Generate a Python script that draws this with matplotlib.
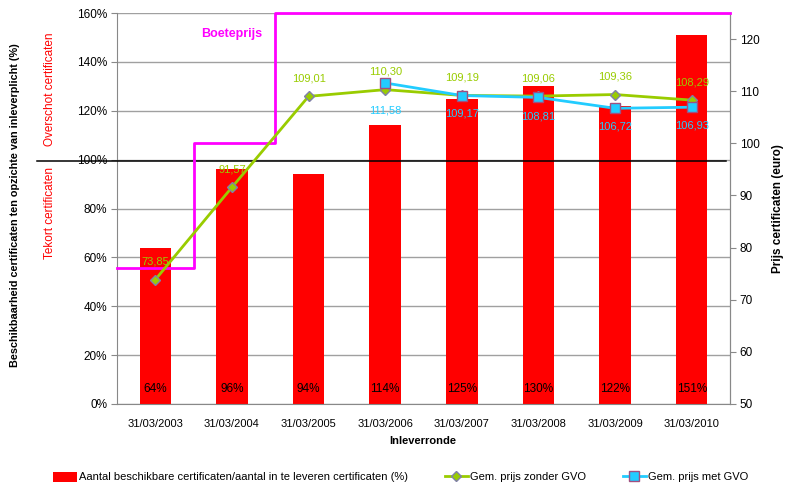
import matplotlib
matplotlib.use("Agg")
import matplotlib.pyplot as plt
from matplotlib.patches import Patch
from matplotlib.lines import Line2D
import matplotlib.transforms as mtransforms

plt.rcParams['font.family'] = ['Liberation Sans Narrow', 'Liberation Sans', 'DejaVu Sans']

categories = ['31/03/2003', '31/03/2004', '31/03/2005', '31/03/2006',
              '31/03/2007', '31/03/2008', '31/03/2009', '31/03/2010']
availability_pct = [64, 96, 94, 114, 125, 130, 122, 151]
price_zonder_gvo = [73.85, 91.57, 109.01, 110.30, 109.19, 109.06, 109.36, 108.29]
price_met_gvo = [None, None, None, 111.58, 109.17, 108.81, 106.72, 106.93]
boete_change_x = [-0.5, 0.5, 1.56]
boete_values = [76, 100, 125]
left_ticks = [0, 20, 40, 60, 80, 100, 120, 140, 160]
right_ticks = [50, 60, 70, 80, 90, 100, 110, 120]

def fmt(v):
    return f"{v:.2f}".replace('.', ',')

W, H = 786, 488
fig = plt.figure(figsize=(W / 100, H / 100), dpi=100)
ax = fig.add_axes([117 / W, 1 - 404 / H, (730 - 117) / W, (404 - 13) / H])
ax2 = ax.twinx()

x = list(range(len(categories)))
GRAY = '#888888'
GREEN = '#99CC00'
BLUE = '#22CCFF'

# bars
ax.bar(x, availability_pct, width=0.41, color='#FF0000', zorder=2)
for xi, v in zip(x, availability_pct):
    ax.text(xi, 6, f"{v}%", ha='center', va='center', fontsize=8.5, color='black', zorder=5)

ax.set_xlim(-0.5, 7.5)
ax.set_ylim(0, 160)
ax.set_yticks(left_ticks)
ax.set_yticklabels([f"{t}%" for t in left_ticks], fontsize=8.5)
ax.set_xticks(x)
ax.set_xticklabels(categories, fontsize=8)
ax.yaxis.grid(True, color='#A0A0A0', linewidth=1.0, zorder=0)
ax.set_axisbelow(True)
for s in ['left', 'right', 'bottom']:
    ax.spines[s].set_color(GRAY)
ax.spines['top'].set_visible(False)
ax2.spines['top'].set_visible(False)
ax2.spines['right'].set_color(GRAY)
ax2.spines['left'].set_visible(False)
ax2.spines['bottom'].set_visible(False)
ax.tick_params(axis='y', length=4, color=GRAY, pad=3)
ax.tick_params(axis='x', length=0, pad=11)

# black 100% line extending left
trans = mtransforms.blended_transform_factory(ax.transAxes, ax.transData)
ax.plot([-0.1305, 0.9935], [99.4, 99.4], color='black', linewidth=1.1,
        transform=trans, clip_on=False, zorder=3)

# right axis
ax2.set_ylim(50, 125)
ax2.set_yticks(right_ticks)
ax2.set_yticklabels([str(t) for t in right_ticks], fontsize=8.5)
ax2.tick_params(axis='y', length=4, color=GRAY, pad=3)

# boeteprijs step line
bx = boete_change_x + [7.5]
by = boete_values + [boete_values[-1]]
ax2.step(bx, by, where='post', color='#FF00FF', linewidth=2.0, clip_on=False, zorder=3)
ax2.text(1.0, 121, 'Boeteprijs', color='#FF00FF', fontsize=9, fontweight='bold',
         ha='center', va='center')

# price lines
ax2.plot(x, price_zonder_gvo, color=GREEN, linewidth=2.0, marker='D', markersize=5.5,
         markerfacecolor=GREEN, markeredgecolor='#8080A8', markeredgewidth=1.0, zorder=4)
for xi, v in zip(x, price_zonder_gvo):
    ax2.annotate(fmt(v), (xi, v), xytext=(0, 13), textcoords='offset points',
                 ha='center', va='center', fontsize=8, color=GREEN, zorder=6)

mx = [xi for xi, v in zip(x, price_met_gvo) if v is not None]
mv = [v for v in price_met_gvo if v is not None]
met_label_offsets = [-20, -13, -14, -13, -13]
ax2.plot(mx, mv, color=BLUE, linewidth=2.0, marker='s', markersize=7,
         markerfacecolor=BLUE, markeredgecolor='#A05080', markeredgewidth=1.0, zorder=5)
for xi, v, off in zip(mx, mv, met_label_offsets):
    ax2.annotate(fmt(v), (xi, v), xytext=(0, off), textcoords='offset points',
                 ha='center', va='center', fontsize=8, color=BLUE, zorder=6)

# axis titles
fig.text(15 / W, 1 - 205 / H, 'Beschikbaarheid certificaten ten opzichte van inleverplicht (%)',
         rotation=90, ha='center', va='center', fontsize=7.8, fontweight='bold')
fig.text(778 / W, 1 - 209 / H, 'Prijs certificaten (euro)', rotation=90,
         ha='center', va='center', fontsize=8.5, fontweight='bold')
fig.text(423 / W, 1 - 441 / H, 'Inleverronde', ha='center', va='center',
         fontsize=8, fontweight='bold')
fig.text(50 / W, 1 - 89 / H, 'Overschot certificaten', rotation=90, ha='center',
         va='center', fontsize=8.5, color='#FF0000')
fig.text(50 / W, 1 - 213 / H, 'Tekort certificaten', rotation=90, ha='center',
         va='center', fontsize=8.5, color='#FF0000')

# legend
handles = [
    Patch(facecolor='#FF0000', edgecolor='none'),
    Line2D([0], [0], color=GREEN, linewidth=2, marker='D', markersize=5,
           markerfacecolor=GREEN, markeredgecolor='#8080A8'),
    Line2D([0], [0], color=BLUE, linewidth=2, marker='s', markersize=6.5,
           markerfacecolor=BLUE, markeredgecolor='#A05080'),
]
labels = ['Aantal beschikbare certificaten/aantal in te leveren certificaten (%)',
          'Gem. prijs zonder GVO', 'Gem. prijs met GVO']
fig.legend(handles, labels, loc='center', bbox_to_anchor=(401 / W, 1 - 477 / H),
           ncol=3, frameon=False, fontsize=8, handlelength=2.1, handletextpad=0.2,
           columnspacing=3.3, handleheight=1.0)

fig.savefig('out.png', dpi=100)
